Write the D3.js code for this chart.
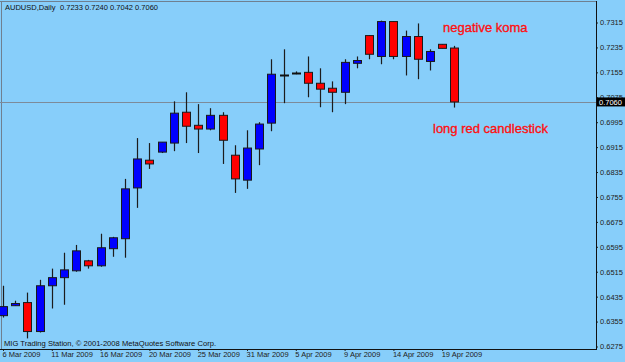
<!DOCTYPE html>
<html>
<head>
<meta charset="utf-8">
<script src="https://cdn.jsdelivr.net/npm/d3@7"></script>
<style>
  body { margin: 0; background: #87cefa; }
  text { font-family: "Liberation Sans", Arial, sans-serif; }
</style>
</head>
<body>
<div id="chart"></div>
<script>
// daily bars
var dates = ["6 Mar 2009", "8 Mar 2009", "9 Mar 2009", "10 Mar 2009", "11 Mar 2009", "12 Mar 2009",
  "13 Mar 2009", "15 Mar 2009", "16 Mar 2009", "17 Mar 2009", "18 Mar 2009", "19 Mar 2009",
  "20 Mar 2009", "22 Mar 2009", "23 Mar 2009", "24 Mar 2009", "25 Mar 2009", "26 Mar 2009",
  "27 Mar 2009", "30 Mar 2009", "31 Mar 2009", "1 Apr 2009", "2 Apr 2009", "3 Apr 2009",
  "5 Apr 2009", "6 Apr 2009", "7 Apr 2009", "8 Apr 2009", "9 Apr 2009", "10 Apr 2009",
  "12 Apr 2009", "13 Apr 2009", "14 Apr 2009", "15 Apr 2009", "16 Apr 2009", "17 Apr 2009",
  "19 Apr 2009", "20 Apr 2009"];

var opens = [0.6374, 0.6406, 0.6416, 0.6323, 0.6470, 0.6496, 0.6518, 0.6550, 0.6534, 0.6589,
  0.6621, 0.6784, 0.6873, 0.6899, 0.6928, 0.7027, 0.6985, 0.6973, 0.7017, 0.6889,
  0.6809, 0.6909, 0.6992, 0.7145, 0.7151, 0.7155, 0.7120, 0.7104, 0.7091, 0.7184,
  0.7273, 0.7206, 0.7318, 0.7206, 0.7270, 0.7190, 0.7245, 0.7233];
var highs = [0.6470, 0.6422, 0.6448, 0.6489, 0.6525, 0.6576, 0.6601, 0.6553, 0.6637, 0.6627,
  0.6813, 0.6944, 0.6928, 0.6931, 0.7062, 0.7091, 0.7053, 0.7040, 0.7027, 0.6921,
  0.6969, 0.6995, 0.7197, 0.7229, 0.7158, 0.7206, 0.7168, 0.7126, 0.7197, 0.7206,
  0.7274, 0.7321, 0.7319, 0.7289, 0.7312, 0.7229, 0.7245, 0.7240];
var lows = [0.6368, 0.6405, 0.6301, 0.6320, 0.6397, 0.6409, 0.6515, 0.6525, 0.6531, 0.6563,
  0.6560, 0.6720, 0.6845, 0.6896, 0.6902, 0.6928, 0.6896, 0.6969, 0.6861, 0.6768,
  0.6781, 0.6857, 0.6966, 0.7056, 0.7149, 0.7075, 0.7043, 0.7027, 0.7053, 0.7168,
  0.7197, 0.7181, 0.7197, 0.7145, 0.7133, 0.7161, 0.7232, 0.7042];
var closes = [0.6403, 0.6413, 0.6323, 0.6470, 0.6496, 0.6521, 0.6582, 0.6534, 0.6592, 0.6624,
  0.6781, 0.6877, 0.6861, 0.6931, 0.7024, 0.6982, 0.6973, 0.7017, 0.6937, 0.6813,
  0.6912, 0.6989, 0.7149, 0.7146, 0.7153, 0.7120, 0.7101, 0.7091, 0.7187, 0.7193,
  0.7213, 0.7318, 0.7206, 0.7270, 0.7197, 0.7222, 0.7232, 0.7060];

var yTicks = [0.6275, 0.6355, 0.6435, 0.6515, 0.6595, 0.6675, 0.6755, 0.6835,
  0.6915, 0.6995, 0.7075, 0.7155, 0.7235, 0.7315];
var xTicks = ["6 Mar 2009", "11 Mar 2009", "16 Mar 2009", "20 Mar 2009", "25 Mar 2009",
  "31 Mar 2009", "5 Apr 2009", "9 Apr 2009", "14 Apr 2009", "19 Apr 2009"];

var symbol = "AUDUSD,Daily";
var lastQuote = "0.7233 0.7240 0.7042 0.7060";
var currentPrice = 0.7060;
var credit = "MIG Trading Station, \u00a9 2001-2008 MetaQuotes Software Corp.";
var noteTop = "negative koma";
var noteBottom = "long red candlestick";

(function() {
  var width = 625, height = 362;
  var plotRight = 596, plotBottom = 349;

  var svg = d3.select("#chart")
    .append("svg")
    .attr("width", width)
    .attr("height", height);

  svg.append("rect")
    .attr("width", width)
    .attr("height", height)
    .attr("fill", "#87cefa");

  var xScale = d3.scalePoint().domain(dates).range([3, 454.4]);
  var yScale = d3.scaleLinear().domain([0.6275, 0.7315]).range([346.5, 22.5]);

  // frame
  svg.append("line")
    .attr("x1", 0).attr("x2", plotRight).attr("y1", 1.5).attr("y2", 1.5)
    .attr("stroke", "#6f8090");
  svg.append("line")
    .attr("x1", 1.5).attr("x2", 1.5).attr("y1", 1.5).attr("y2", plotBottom)
    .attr("stroke", "#6f8090");

  // current price line
  svg.append("line")
    .attr("x1", 0).attr("x2", plotRight)
    .attr("y1", Math.round(yScale(currentPrice)) + 0.5)
    .attr("y2", Math.round(yScale(currentPrice)) + 0.5)
    .attr("stroke", "#7d8b99");

  var bars = dates.map(function(d, i) {
    return { date: d, o: opens[i], h: highs[i], l: lows[i], c: closes[i] };
  });

  var candle = svg.selectAll(".candle")
    .data(bars)
    .enter().append("g")
    .attr("class", "candle");

  candle.append("line")
    .attr("x1", function(d) { return Math.round(xScale(d.date)) + 0.5 })
    .attr("x2", function(d) { return Math.round(xScale(d.date)) + 0.5 })
    .attr("y1", function(d) { return yScale(d.h) })
    .attr("y2", function(d) { return yScale(d.l) })
    .attr("stroke", "#1c1c1c")
    .attr("stroke-width", 1.2);

  candle.filter(function(d) { return Math.abs(d.o - d.c) >= 0.0003 })
    .append("rect")
    .attr("x", function(d) { return Math.round(xScale(d.date)) - 3.5 })
    .attr("width", 8)
    .attr("y", function(d) { return yScale(Math.max(d.o, d.c)) })
    .attr("height", function(d) { return Math.max(1, Math.abs(yScale(d.o) - yScale(d.c))) })
    .attr("fill", function(d) { return d.c > d.o ? "#0000ff" : "#ff0000" })
    .attr("stroke", "#1a1a1a")
    .attr("stroke-width", 1);

  // doji bars drawn as a flat line
  candle.filter(function(d) { return Math.abs(d.o - d.c) < 0.0003 })
    .append("line")
    .attr("x1", function(d) { return Math.round(xScale(d.date)) - 4 })
    .attr("x2", function(d) { return Math.round(xScale(d.date)) + 5 })
    .attr("y1", function(d) { return Math.round(yScale(d.c)) + 0.5 })
    .attr("y2", function(d) { return Math.round(yScale(d.c)) + 0.5 })
    .attr("stroke", "#111")
    .attr("stroke-width", 2);

  // axes
  var yAxis = d3.axisRight(yScale)
    .tickValues(yTicks)
    .tickSize(2)
    .tickPadding(2)
    .tickFormat(d3.format(".4f"));
  var yG = svg.append("g")
    .attr("class", "axis y-axis")
    .attr("transform", "translate(" + plotRight + ",0)")
    .call(yAxis);
  yG.select(".domain").remove();
  yG.selectAll("line").attr("stroke", "#222");
  yG.selectAll("text")
    .attr("font-size", "7.5px")
    .attr("font-family", "Liberation Sans, Arial, sans-serif")
    .attr("fill", "#222");

  var xAxis = d3.axisBottom(xScale)
    .tickValues(xTicks)
    .tickSize(2)
    .tickPadding(1);
  var xG = svg.append("g")
    .attr("class", "axis x-axis")
    .attr("transform", "translate(0," + plotBottom + ")")
    .call(xAxis);
  xG.select(".domain").remove();
  xG.selectAll("line").attr("stroke", "#222");
  xG.selectAll("text")
    .attr("text-anchor", "start")
    .attr("dx", -1)
    .attr("font-size", "7.5px")
    .attr("font-family", "Liberation Sans, Arial, sans-serif")
    .attr("fill", "#222");

  svg.append("line")
    .attr("x1", plotRight + 0.5).attr("x2", plotRight + 0.5)
    .attr("y1", 1).attr("y2", plotBottom + 0.5)
    .attr("stroke", "#111");
  svg.append("line")
    .attr("x1", 0).attr("x2", plotRight + 1)
    .attr("y1", plotBottom + 0.5).attr("y2", plotBottom + 0.5)
    .attr("stroke", "#111");

  // price tag
  var py = yScale(currentPrice);
  svg.append("rect")
    .attr("x", plotRight + 1).attr("y", py - 4.5)
    .attr("width", 28).attr("height", 9)
    .attr("fill", "#000");
  svg.append("text")
    .attr("x", plotRight + 3).attr("y", py + 3)
    .attr("font-size", "7.5px")
    .attr("fill", "#fff")
    .text(d3.format(".4f")(currentPrice));

  // title + credit
  var title = svg.append("text")
    .attr("x", 5).attr("y", 10)
    .attr("font-size", "7.5px")
    .attr("fill", "#111");
  title.append("tspan").text(symbol);
  title.append("tspan").attr("x", 60).text(lastQuote);

  svg.append("text")
    .attr("x", 4).attr("y", 345.5)
    .attr("font-size", "7.6px")
    .attr("fill", "#111")
    .text(credit);

  // notes
  svg.append("text")
    .attr("x", 443).attr("y", 32)
    .attr("font-size", "13px")
    .attr("fill", "#ff1010")
    .attr("stroke", "#ff1010")
    .attr("stroke-width", 0.35)
    .text(noteTop);
  svg.append("text")
    .attr("x", 433).attr("y", 133)
    .attr("font-size", "13px")
    .attr("fill", "#ff1010")
    .attr("stroke", "#ff1010")
    .attr("stroke-width", 0.35)
    .text(noteBottom);
})();
</script>
</body>
</html>
